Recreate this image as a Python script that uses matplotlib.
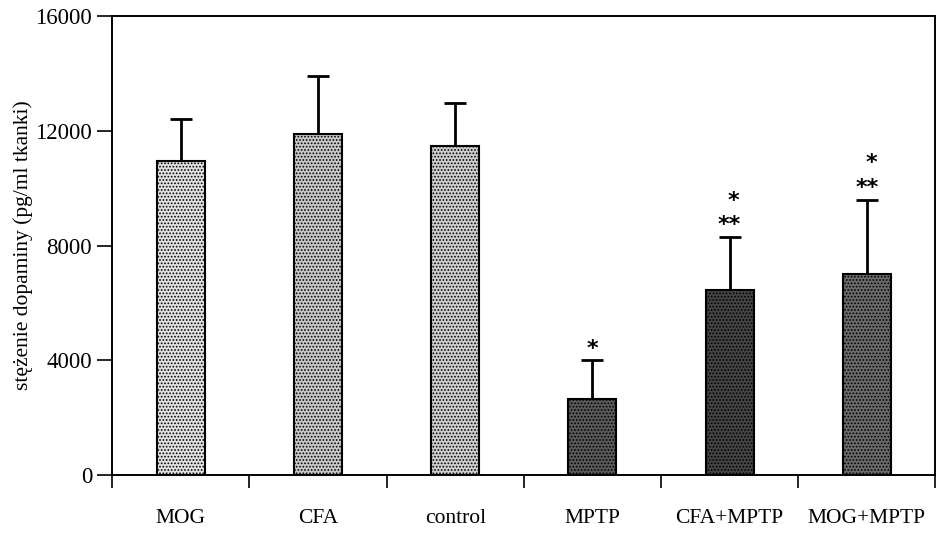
import matplotlib.pyplot as plt
import numpy as np

# dane
grupy = ['MOG', 'CFA', 'control', 'MPTP', 'CFA+MPTP', 'MOG+MPTP']
srednie = [10950, 11900, 11450, 2650, 6450, 7000]
odchylenia = [1450, 2000, 1500, 1350, 1850, 2600]
gwiazdki = [[], [], [], ['*'], ['**', '*'], ['**', '*']]
kolory = ['#e0e0e0', '#c8c8c8', '#cecece', '#5a5a5a', '#444444', '#6a6a6a']

plt.rcParams['font.family'] = ['Liberation Serif', 'DejaVu Serif']
plt.rcParams['hatch.linewidth'] = 0.8

fig = plt.figure(figsize=(9.43, 5.45), dpi=100)
ax = fig.add_axes([0.119, 0.128, 0.873, 0.843])

x = np.arange(len(grupy))
ax.bar(x, srednie, width=0.35, color=kolory, edgecolor='black',
       hatch='.....', linewidth=1.2, zorder=2)
ax.bar(x, srednie, width=0.35, fill=False, edgecolor='black',
       linewidth=1.5, zorder=3)
ax.errorbar(x, srednie, yerr=[np.zeros(len(x)), odchylenia], fmt='none',
            ecolor='black', elinewidth=2, capsize=8, capthick=2, zorder=1)

# oznaczenia istotnosci (kazdy wiersz osobno)
for xi, m, s, g in zip(x, srednie, odchylenia, gwiazdki):
    for i, t in enumerate(g):
        dx = 0.03 if t == '*' and len(g) > 1 else 0
        ax.text(xi + dx, m + s + 60 + i * 850, t, ha='center', va='bottom',
                fontsize=16, fontweight='bold', family='DejaVu Sans')

ax.set_xlim(-0.5, 5.5)
ax.set_ylim(0, 16000)
ax.set_yticks([0, 4000, 8000, 12000, 16000])
ax.set_xticks(x)
ax.set_xticklabels(grupy)
ax.set_xticks(np.arange(-0.5, 6, 1), minor=True)
ax.tick_params(axis='x', which='major', length=0, pad=24, labelsize=15.5)
ax.tick_params(axis='x', which='minor', length=9, width=1.2, direction='out')
ax.tick_params(axis='y', length=11, width=1.2, direction='out', labelsize=16.5)
ax.set_ylabel('stężenie dopaminy (pg/ml tkanki)', fontsize=15.5, labelpad=2)

for sp in ax.spines.values():
    sp.set_linewidth(1.4)

fig.savefig('out.png', dpi=100)
